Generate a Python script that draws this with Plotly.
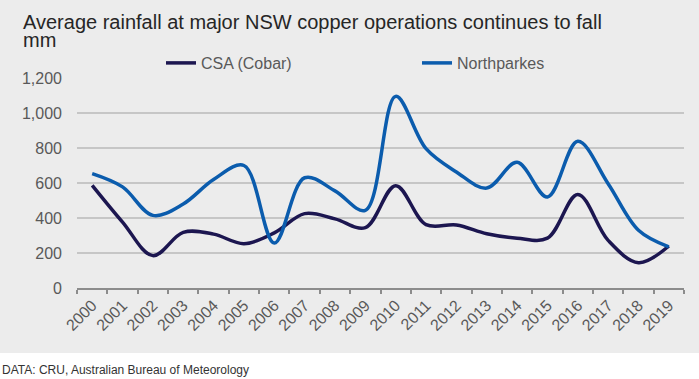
import plotly.graph_objects as go

years = [str(y) for y in range(2000, 2020)]
csa_cobar = [587, 377, 185, 318, 308, 253, 315, 425, 395, 345, 585, 362, 360, 310, 285, 285, 535, 272, 145, 240]
northparkes = [654, 578, 415, 480, 620, 700, 257, 630, 555, 444, 1095, 796, 663, 571, 718, 520, 838, 596, 330, 235]
y_ticks = [0, 200, 400, 600, 800, 1000, 1200]
y_tick_labels = ["0", "200", "400", "600", "800", "1,000", "1,200"]

title_text = "Average rainfall at major NSW copper operations continues to fall"
unit_text = "mm"
source_text = "DATA: CRU, Australian Bureau of Meteorology"

FONT = "Liberation Sans, Arial, sans-serif"
BG = "#ececec"

W, H = 699, 379
L, R, T, B = 77, 15, 78, 91
PW = W - L - R
PH = H - T - B


def px_x(px):
    return (px - L) / PW


def px_y(py):
    return (H - B - py) / PH


fig = go.Figure()
fig.add_trace(go.Scatter(
    x=years, y=csa_cobar, name="CSA (Cobar)", mode="lines", legend="legend",
    line=dict(color="#1c1650", width=3.5, shape="spline", smoothing=1.0),
))
fig.add_trace(go.Scatter(
    x=years, y=northparkes, name="Northparkes", mode="lines", legend="legend2",
    line=dict(color="#0b5cad", width=3.5, shape="spline", smoothing=1.0),
))

legend_common = dict(
    orientation="h", xanchor="left", yanchor="middle",
    font=dict(size=16, color="#595959", family=FONT),
    bgcolor="rgba(0,0,0,0)", itemwidth=30,
)

fig.update_layout(
    width=W, height=H,
    margin=dict(l=L, r=R, t=T, b=B),
    paper_bgcolor=BG, plot_bgcolor=BG,
    font=dict(family=FONT, color="#595959", size=16),
    showlegend=True,
    legend=dict(x=px_x(161), y=px_y(63), **legend_common),
    legend2=dict(x=px_x(417), y=px_y(63), **legend_common),
    xaxis=dict(
        type="category", showgrid=False, showline=True, linecolor="#8c8c8c", linewidth=1.5,
        ticks="outside", ticklen=4, tickcolor="#8c8c8c", tickwidth=1.5,
        tickson="boundaries", tickangle=-45,
        tickfont=dict(size=16, color="#595959", family=FONT),
        range=[-0.5, 19.5], fixedrange=True,
    ),
    yaxis=dict(
        range=[0, 1200], tickvals=y_ticks, ticktext=y_tick_labels,
        showgrid=True, gridcolor="#c6c6c6", gridwidth=1.5,
        zeroline=False, showline=False, ticks="",
        ticklabelstandoff=14,
        tickfont=dict(size=16, color="#595959", family=FONT),
    ),
    shapes=[dict(
        type="rect", xref="paper", yref="paper",
        x0=px_x(-5), x1=px_x(W + 5), y0=px_y(H + 5), y1=px_y(353),
        fillcolor="white", line=dict(width=0), layer="below",
    )],
    annotations=[
        dict(text=title_text, xref="paper", yref="paper", x=px_x(21), y=px_y(22),
             xanchor="left", yanchor="middle", showarrow=False,
             font=dict(size=20, color="#262626", family=FONT)),
        dict(text=unit_text, xref="paper", yref="paper", x=px_x(21), y=px_y(40),
             xanchor="left", yanchor="middle", showarrow=False,
             font=dict(size=20, color="#262626", family=FONT)),
        dict(text=source_text, xref="paper", yref="paper", x=px_x(0), y=px_y(370),
             xanchor="left", yanchor="middle", showarrow=False,
             font=dict(size=12, color="#333333", family=FONT)),
    ],
)

fig.write_html("out.html", config={"displayModeBar": False},
               post_script="document.body.style.margin='0px';")
